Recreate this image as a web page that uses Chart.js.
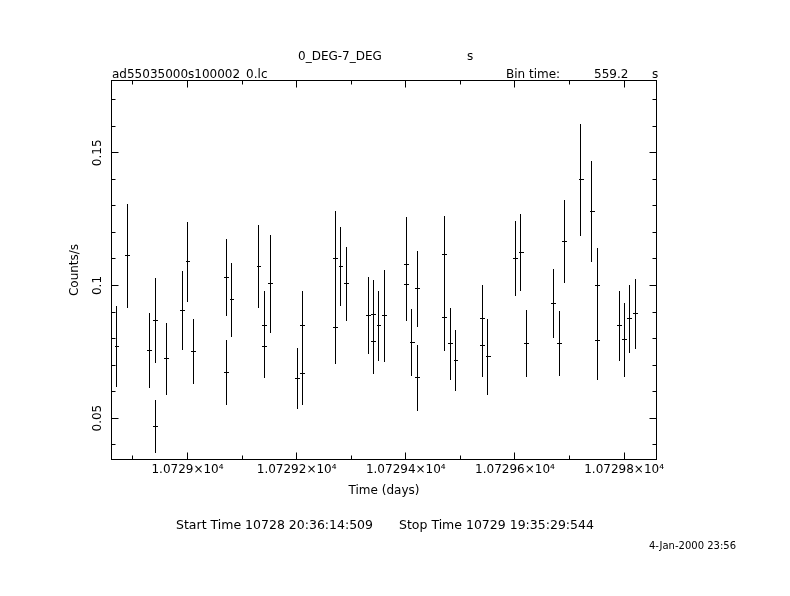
<!DOCTYPE html>
<html><head><meta charset="utf-8">
<script src="https://cdn.jsdelivr.net/npm/chart.js@4.4.1/dist/chart.umd.min.js"></script>
<style>html,body{margin:0;padding:0;background:#fff}#wrap{width:790px;height:596px;position:relative}canvas{display:block}</style>
</head><body><div id="wrap"><canvas id="c" width="790" height="596"></canvas></div>
<script>
// Light-curve bins (time in days, rate in counts/s, 1-sigma error)
const times = [10728.8699,10728.8893,10728.9296,10728.9406,10728.9406,10728.9608,10728.9901,10729.0000,10729.0103,
  10729.0707,10729.0707,10729.0806,10729.1301,10729.1404,10729.1404,10729.1514,
  10729.2008,10729.2100,10729.2100,10729.2705,10729.2705,10729.2803,10729.2906,
  10729.3309,10729.3401,10729.3401,10729.3500,10729.3602,
  10729.4006,10729.4006,10729.4110,10729.4207,10729.4207,10729.4702,10729.4702,10729.4812,10729.4911,
  10729.5398,10729.5398,10729.5503,10729.6003,10729.6107,10729.6204,
  10729.6699,10729.6809,10729.6901,10729.7207,10729.7408,10729.7505,10729.7505,
  10729.7908,10729.8000,10729.8092,10729.8201];
const rates = [0.0770,0.1112,0.0755,0.0867,0.0469,0.0724,0.0905,0.1089,0.0751,
  0.1029,0.0671,0.0946,0.1072,0.0848,0.0769,0.1006,
  0.0650,0.0848,0.0667,0.1101,0.0840,0.1070,0.1006,
  0.0886,0.0889,0.0789,0.0848,0.0886,
  0.1078,0.1003,0.0784,0.0987,0.0652,0.1116,0.0878,0.0780,0.0717,
  0.0874,0.0773,0.0731,0.1101,0.1123,0.0780,
  0.0931,0.0780,0.1165,0.1398,0.1279,0.1000,0.0793,
  0.0848,0.0795,0.0874,0.0894];
const errors = [0.0154,0.0197,0.0141,0.0161,0.0099,0.0135,0.0148,0.0150,0.0123,
  0.0145,0.0122,0.0139,0.0156,0.0133,0.0117,0.0184,
  0.0114,0.0132,0.0116,0.0178,0.0137,0.0149,0.0139,
  0.0145,0.0133,0.0123,0.0131,0.0173,
  0.0182,0.0137,0.0126,0.0143,0.0124,0.0145,0.0126,0.0137,0.0116,
  0.0129,0.0118,0.0142,0.0141,0.0145,0.0126,
  0.0130,0.0122,0.0156,0.0211,0.0190,0.0143,0.0148,
  0.0131,0.0139,0.0129,0.0132];
const halfBin = 559.2 / 2 / 86400; // days

const xMajorTicks = [10729.0, 10729.2, 10729.4, 10729.6, 10729.8];
const xTickLabels = ['1.0729×10⁴', '1.07292×10⁴', '1.07294×10⁴', '1.07296×10⁴', '1.07298×10⁴'];
const xMinorTicks = [10728.9, 10729.1, 10729.3, 10729.5, 10729.7];
const yMajorTicks = [0.05, 0.1, 0.15];
const yTickLabels = ['0.05', '0.1', '0.15'];
const yMinorTicks = [0.04, 0.06, 0.07, 0.08, 0.09, 0.11, 0.12, 0.13, 0.14, 0.16, 0.17];
const xRange = [10728.85983, 10729.86029];
const yRange = [0.03422, 0.17746];

const FONT = '"DejaVu Sans", sans-serif';

const decor = {
  id: 'decor',
  afterDatasetsDraw(chart) {
    const {ctx, scales: {x, y}} = chart;
    ctx.save();
    ctx.strokeStyle = '#000';
    ctx.lineWidth = 1;
    ctx.beginPath();
    for (let i = 0; i < times.length; i++) {
      const px = Math.floor(x.getPixelForValue(times[i])) + 0.5;
      const py = Math.floor(y.getPixelForValue(rates[i])) + 0.5;
      const yt = Math.round(y.getPixelForValue(rates[i] + errors[i]));
      const yb = Math.round(y.getPixelForValue(rates[i] - errors[i]));
      ctx.moveTo(px, yt); ctx.lineTo(px, yb);
      const xl = Math.round(x.getPixelForValue(times[i] - halfBin));
      const xr = Math.round(x.getPixelForValue(times[i] + halfBin));
      ctx.moveTo(xl, py); ctx.lineTo(xr + 1, py);
    }
    ctx.stroke();
    ctx.restore();
  },
  afterDraw(chart) {
    const {ctx, chartArea: a, scales: {x, y}} = chart;
    ctx.save();
    ctx.strokeStyle = '#000';
    ctx.lineWidth = 1;
    const L = a.left + 0.5, R = a.right - 0.5, T = a.top + 0.5, B = a.bottom - 0.5;
    ctx.strokeRect(L, T, R - L, B - T);
    ctx.beginPath();
    const xt = (v, len) => {
      const p = Math.floor(x.getPixelForValue(v)) + 0.5;
      ctx.moveTo(p, B); ctx.lineTo(p, B - len);
      ctx.moveTo(p, T); ctx.lineTo(p, T + len);
    };
    const yt = (v, len) => {
      const p = Math.floor(y.getPixelForValue(v)) + 0.5;
      ctx.moveTo(L, p); ctx.lineTo(L + len, p);
      ctx.moveTo(R, p); ctx.lineTo(R - len, p);
    };
    xMajorTicks.forEach(v => xt(v, 7));
    xMinorTicks.forEach(v => xt(v, 4));
    yMajorTicks.forEach(v => yt(v, 7));
    yMinorTicks.forEach(v => yt(v, 4));
    ctx.stroke();

    ctx.fillStyle = '#000';
    // y tick labels, rotated
    ctx.font = '12px ' + FONT;
    ctx.textAlign = 'center';
    ctx.textBaseline = 'middle';
    yMajorTicks.forEach((v, i) => {
      ctx.save();
      ctx.translate(98, y.getPixelForValue(v));
      ctx.rotate(-Math.PI / 2);
      ctx.fillText(yTickLabels[i], 0, 0);
      ctx.restore();
    });
    // header texts
    ctx.textBaseline = 'alphabetic';
    ctx.textAlign = 'left';
    ctx.fillText('0_DEG-7_DEG', 298, 60);
    ctx.fillText('s', 467, 60);
    ctx.fillText('ad55035000s100002_0.lc', 112, 78);
    ctx.fillText('Bin time:', 506, 78);
    ctx.fillText('559.2', 594, 78);
    ctx.fillText('s', 652, 78);
    // footer
    ctx.font = '12.5px ' + FONT;
    ctx.fillText('Start Time 10728 20:36:14:509', 176, 529);
    ctx.fillText('Stop Time 10729 19:35:29:544', 399, 529);
    ctx.font = '10px ' + FONT;
    ctx.fillText('4-Jan-2000 23:56', 649, 549);
    ctx.restore();
  }
};

new Chart(document.getElementById('c'), {
  type: 'scatter',
  data: {
    datasets: [{
      label: 'rate',
      data: times.map((t, i) => ({x: t, y: rates[i]})),
      pointRadius: 0,
      showLine: false
    }]
  },
  options: {
    responsive: false,
    devicePixelRatio: 1,
    animation: false,
    layout: {padding: {left: 63, right: 133, top: 80, bottom: 96}},
    plugins: {legend: {display: false}, tooltip: {enabled: false}, title: {display: false}},
    scales: {
      x: {
        type: 'linear',
        min: xRange[0], max: xRange[1],
        afterBuildTicks: s => { s.ticks = xMajorTicks.map(v => ({value: v})); },
        afterFit: s => { s.height = 40; },
        grid: {display: false, drawTicks: false},
        border: {display: false},
        ticks: {
          autoSkip: false, maxRotation: 0, minRotation: 0, padding: 3,
          color: '#000', font: {family: FONT, size: 12},
          callback: (v, i) => xTickLabels[i]
        },
        title: {display: true, text: 'Time (days)', color: '#000', font: {family: FONT, size: 12}, padding: {top: 0, bottom: 2}}
      },
      y: {
        type: 'linear',
        min: yRange[0], max: yRange[1],
        afterBuildTicks: s => { s.ticks = yMajorTicks.map(v => ({value: v})); },
        afterFit: s => { s.width = 48; },
        grid: {display: false, drawTicks: false},
        border: {display: false},
        ticks: {display: false},
        title: {display: true, text: 'Counts/s', color: '#000', font: {family: FONT, size: 12}, padding: {top: 5, bottom: 0}}
      }
    }
  },
  plugins: [decor]
});
</script>
</body></html>
